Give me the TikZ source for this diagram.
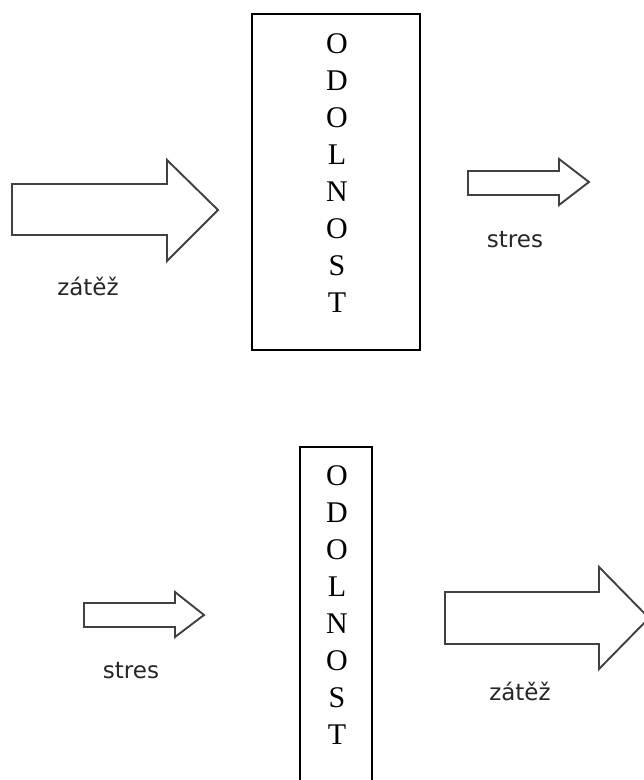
\documentclass[tikz,border=0pt]{standalone}
\usepackage{fontspec}
\setmainfont{Liberation Serif}
\newfontfamily\labelfont{DejaVu Sans}

\tikzstyle{block} = [
    rectangle,
    draw,
    line width = 1.5pt,
    inner sep = 0pt
]
\tikzstyle{letters} = [
    align = center,
    inner sep = 0pt,
    font = \fontsize{30}{37}\selectfont
]
\tikzstyle{fatarrow} = [
    draw = black!75,
    fill = white,
    line width = 1.9pt,
    line join = miter
]
\tikzstyle{caption} = [
    anchor = base,
    inner sep = 0pt,
    text = black!85,
    font = \labelfont\fontsize{23}{27}\selectfont
]

\begin{document}
\begin{tikzpicture}[x = 1pt, y = -1pt]

                \clip (0,0) rectangle (644,780);
                \fill [white] (0,0) rectangle (644,780);

                % top: big load in, small stress out
                \node [block, minimum width = 168pt, minimum height = 336pt] (box1) at (336,182) {};
                \node [letters] (word1) at (337,173) {O\\D\\O\\L\\N\\O\\S\\T};

                \draw [fatarrow] (12,184) -- (167,184) -- (167,160) -- (218,210)
                    -- (167,261) -- (167,235) -- (12,235) -- cycle;
                \node [caption] (load1) at (88,295) {zátěž};

                \draw [fatarrow] (468,171) -- (559,171) -- (559,159) -- (589,182)
                    -- (559,205) -- (559,195) -- (468,195) -- cycle;
                \node [caption] (stress1) at (515,247) {stres};

                % bottom: small stress in, big load out
                \node [block, minimum width = 72pt, minimum height = 353pt] (box2) at (336,623.5) {};
                \node [letters] (word2) at (337,605) {O\\D\\O\\L\\N\\O\\S\\T};

                \draw [fatarrow] (84,603) -- (175,603) -- (175,592) -- (204,615)
                    -- (175,637) -- (175,627) -- (84,627) -- cycle;
                \node [caption] (stress2) at (131,678) {stres};

                \draw [fatarrow] (445,592) -- (599,592) -- (599,567) -- (649,618)
                    -- (599,669) -- (599,644) -- (445,644) -- cycle;
                \node [caption] (load2) at (520,700) {zátěž};

            \end{tikzpicture}
\end{document}
